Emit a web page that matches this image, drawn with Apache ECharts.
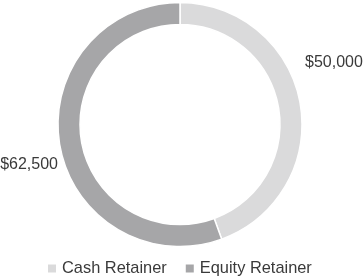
<!DOCTYPE html>
<html>
<head>
<meta charset="utf-8">
<script src="https://cdn.jsdelivr.net/npm/echarts@6/dist/echarts.min.js"></script>
<style>
html,body{margin:0;padding:0;background:#fff;}
#chart{width:364px;height:280px;}
</style>
</head>
<body>
<div id="chart"></div>
<script>
const categories = ['Cash Retainer', 'Equity Retainer'];
const values = [50000, 62500];
const labels = ['$50,000', '$62,500'];
const colors = ['#dadadb', '#a6a6a8'];

const chart = echarts.init(document.getElementById('chart'), null, {renderer: 'canvas'});
const labelPos = [
  {x: 305, y: 63, align: 'left'},
  {x: 58, y: 165, align: 'right'}
];
chart.setOption({
  animation: false,
  color: colors,
  legend: {
    left: 46,
    top: 260,
    padding: 0,
    itemWidth: 10,
    itemHeight: 10,
    itemGap: 17,
    icon: 'rect',
    textStyle: {fontFamily: 'Liberation Sans, Arial', fontSize: 16.4, color: '#3a3a3a', lineHeight: 17},
    data: categories
  },
  series: [{
    type: 'pie',
    center: [180, 124.5],
    radius: [100, 122],
    startAngle: 90,
    clockwise: true,
    avoidLabelOverlap: false,
    itemStyle: {borderColor: '#fff', borderWidth: 1.5},
    label: {
      show: true,
      position: 'outside',
      overflow: 'none',
      fontFamily: 'Liberation Sans, Arial',
      fontSize: 16,
      color: '#3a3a3a',
      formatter: p => labels[p.dataIndex]
    },
    labelLine: {show: false},
    labelLayout: function (p) {
      const l = labelPos[p.dataIndex];
      return {x: l.x, y: l.y, align: l.align, verticalAlign: 'middle'};
    },
    emphasis: {disabled: true},
    data: categories.map((c, i) => ({name: c, value: values[i]}))
  }]
});
</script>
</body>
</html>
